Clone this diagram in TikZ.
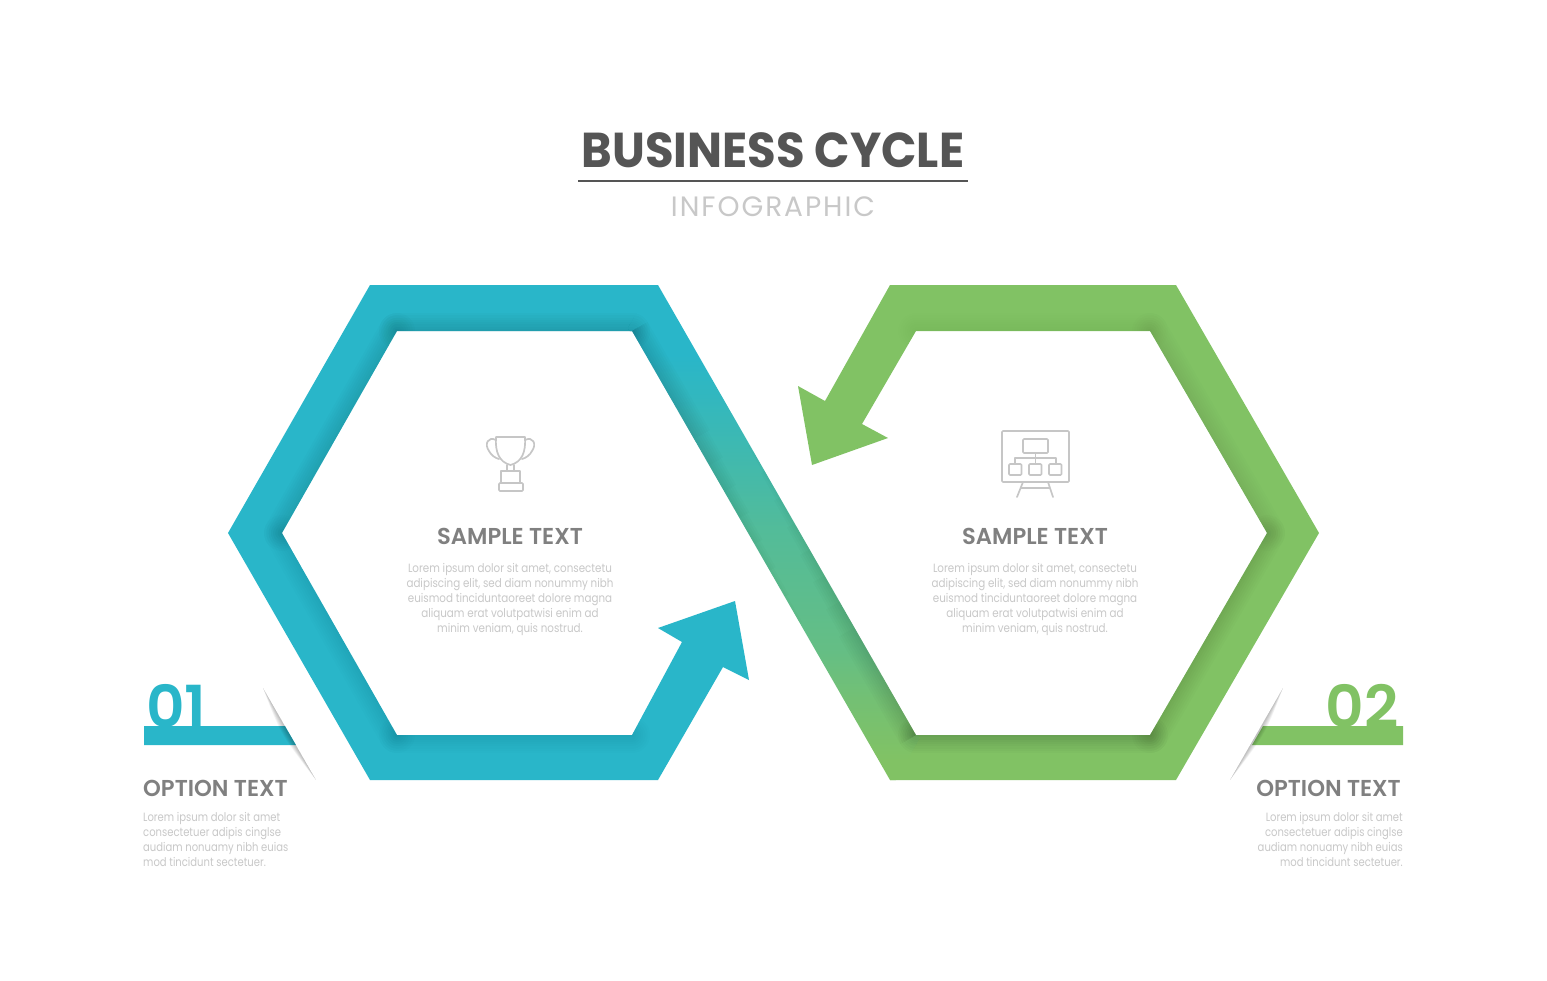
\documentclass[tikz,border=0pt]{standalone}
\usepackage{fontspec}
\usetikzlibrary{calc}
\setmainfont{Poppins}
\newfontfamily\semifont{Poppins SemiBold}
\definecolor{cblue}{HTML}{29B6C9}
\definecolor{cgreen}{HTML}{81C264}
\definecolor{ctitle}{HTML}{555555}
\definecolor{chead}{HTML}{808080}
\definecolor{cbody}{HTML}{C8C8C8}
\definecolor{cicon}{HTML}{C6C6C6}
\pgfdeclareverticalshading{bandshade}{100bp}{color(0bp)=(cgreen); color(27bp)=(cgreen); color(33bp)=(cgreen!85!cblue); color(38bp)=(cgreen!68!cblue); color(50bp)=(cgreen!48!cblue); color(63bp)=(cgreen!12!cblue); color(68bp)=(cblue); color(100bp)=(cblue)}
\tikzset{
  head/.style={font=\semifont\addfontfeatures{FakeStretch=0.985}\fontsize{23}{26}\selectfont, text=chead, inner sep=0pt},
  bodyC/.style={font=\addfontfeatures{FakeStretch=0.86}\fontsize{12}{15.1}\selectfont, text=cbody, inner sep=0pt},
  bodyO/.style={font=\addfontfeatures{FakeStretch=0.835}\fontsize{12}{15.1}\selectfont, text=cbody, inner sep=0pt},
  num/.style={font=\semifont\addfontfeatures{FakeStretch=1.03}\fontsize{58}{58}\selectfont, inner sep=0pt},
  icon/.style={draw=cicon, line width=1.7pt, line join=round, line cap=round},
}
\newcommand{\softedge}[3]{% opacity, from, to : uniform inner glow along a whole edge
  \foreach \i in {1,...,8}{
    \draw[black, opacity=#1, line width=\i*4.5pt, line cap=round] #2 -- #3;
  }%
}
\newcommand{\fadeedge}[3]{% opacity, from, to : glow that dies out towards the end
  \foreach \i in {1,...,8}{
    \draw[black, opacity=#1, line width=\i*4.5pt, line cap=butt] #2 -- ($#3!{(\i-1)*0.09}!#2$);
  }%
}
\newcommand{\wedgeshadow}[4]{% start, middle, end, direction x
  \foreach \k in {1,...,6}{
    \fill[black, opacity=0.045] #1 .. controls ($#2+(#4*\k,0)$) .. #3 -- cycle;
  }%
}
\begin{document}
\begin{tikzpicture}[x=1pt,y=-1pt]
\useasboundingbox[fill=white] (0,0) rectangle (1547,980);

% title
\node[font=\bfseries\addfontfeatures{FakeStretch=0.95}\fontsize{49}{49}\selectfont, text=ctitle, inner sep=0pt, anchor=base] (title) at (773,167) {BUSINESS CYCLE};
\coordinate (ruleL) at (578,181);
\coordinate (ruleR) at (968,181);
\draw[ctitle, line width=1.8pt] (ruleL) -- (ruleR);
\node[font=\addfontfeatures{LetterSpace=7}\fontsize{28}{28}\selectfont, text=cbody, inner sep=0pt, anchor=base] (subtitle) at (773,216) {INFOGRAPHIC};

% blue shape
\begin{scope}
  \path[clip] (370,285) -- (658,285) -- (632,331) -- (397,331) -- (282,533) -- (397,735) -- (632,735) -- (682,642) -- (658,628) -- (735,601) -- (749,680) -- (723,667) -- (658,780) -- (370,780) -- (228,533) -- cycle;
  \fill[cblue] (200,270) rectangle (770,800);
  \softedge{0.017}{(632,331)}{(397,331)}
  \softedge{0.012}{(397,331)}{(282,533)}
  \softedge{0.006}{(282,533)}{(397,735)}
  \softedge{0.006}{(397,735)}{(632,735)}
\end{scope}

% green shape
\begin{scope}
  \path[clip] (890,285) -- (1176,285) -- (1319,533) -- (1176,780) -- (890,780) -- (916,735) -- (1150,735) -- (1267,533) -- (1150,331) -- (916,331) -- (862,424) -- (888,438) -- (812,465) -- (798,386) -- (825,401) -- cycle;
  \fill[cgreen] (780,270) rectangle (1340,800);
  \softedge{0.005}{(916,331)}{(1150,331)}
  \softedge{0.008}{(1150,331)}{(1267,533)}
  \softedge{0.012}{(1267,533)}{(1150,735)}
  \softedge{0.018}{(1150,735)}{(916,735)}
\end{scope}

% crossing band, with its ends laid a little over the two rings to hide the joins
\begin{scope}
  \path[clip] (628,328) -- (654,282) -- (661,287) -- (920,738) -- (894,783) -- (887,778) -- cycle;
  \clip (632,331) -- (620,331) -- (645,285) -- (658,285) -- (916,735) -- (928,735) -- (903,780) -- (890,780) -- cycle;
  \shade[shading=bandshade] (620,285) rectangle (930,780);
  \softedge{0.017}{(632,331)}{(397,331)}
  \softedge{0.018}{(1150,735)}{(916,735)}
  \fadeedge{0.016}{(632,331)}{(800,623)}
  \fadeedge{0.016}{(916,735)}{(750,445)}
\end{scope}

% option bars
\fill[cblue] (144,726) -- (285,726) -- (296,745) -- (144,745) -- cycle;
\fill[cgreen] (1403,726) -- (1263,726) -- (1252,745) -- (1403,745) -- cycle;
\wedgeshadow{(263,688)}{(289,734)}{(316,780)}{-1.4}
\wedgeshadow{(1283,688)}{(1257,734)}{(1230,780)}{1.4}

% numbers
\node[num, text=cblue, anchor=base west] (n1) at (146,727) {01};
\node[num, text=cgreen, anchor=base east] (n2) at (1399,727) {02};

% centre texts
\node[head] (h1) at (510,536) {SAMPLE TEXT};
\node[head] (h2) at (1035,536) {SAMPLE TEXT};
\node[bodyC, align=center, anchor=north] (b1) at (510,563) {Lorem ipsum dolor sit amet, consectetu\\adipiscing elit, sed diam nonummy nibh\\euismod tinciduntaoreet dolore magna\\aliquam erat volutpatwisi enim ad\\minim veniam, quis nostrud.};
\node[bodyC, align=center, anchor=north] (b2) at (1035,563) {Lorem ipsum dolor sit amet, consectetu\\adipiscing elit, sed diam nonummy nibh\\euismod tinciduntaoreet dolore magna\\aliquam erat volutpatwisi enim ad\\minim veniam, quis nostrud.};

% option texts
\node[head, anchor=west] (o1) at (143,788) {OPTION TEXT};
\node[head, anchor=east] (o2) at (1401,788) {OPTION TEXT};
\node[bodyO, align=left, anchor=north west] (t1) at (143,812) {Lorem ipsum dolor sit amet\\consectetuer adipis cinglse\\audiam nonuamy nibh euias\\mod tincidunt sectetuer.};
\node[bodyO, align=right, anchor=north east] (t2) at (1403,812) {Lorem ipsum dolor sit amet\\consectetuer adipis cinglse\\audiam nonuamy nibh euias\\mod tincidunt sectetuer.};

% trophy icon
\draw[icon] (496,437) -- (525,437) .. controls (526,452) and (522,462) .. (510.5,465) .. controls (499,462) and (495,452) .. (496,437) -- cycle;
\draw[icon] (496,440) .. controls (488,436) and (484,444) .. (489,451) .. controls (491,455) and (495,458) .. (499,459);
\draw[icon] (525,440) .. controls (533,436) and (537,444) .. (532,451) .. controls (530,455) and (526,458) .. (522,459);
\draw[icon] (507,465) -- (507,471) (514,465) -- (514,471);
\draw[icon] (501,471) rectangle (520,483);
\draw[icon, rounded corners=1pt] (499,483) rectangle (523,491);

% board icon
\draw[icon, rounded corners=1pt] (1002,431) rectangle (1069,482);
\draw[icon, rounded corners=1pt] (1023,439) rectangle (1048,453);
\draw[icon] (1035.5,453) -- (1035.5,458) (1015,464) -- (1015,458) -- (1056,458) -- (1056,464) (1035.5,458) -- (1035.5,464);
\draw[icon, rounded corners=1pt] (1009,464) rectangle (1021.5,475);
\draw[icon, rounded corners=1pt] (1029,464) rectangle (1041.5,475);
\draw[icon, rounded corners=1pt] (1049,464) rectangle (1061.5,475);
\draw[icon] (1023,482) -- (1017,497) (1048,482) -- (1053,497) (1021,488) -- (1050,488);
\end{tikzpicture}
\end{document}
